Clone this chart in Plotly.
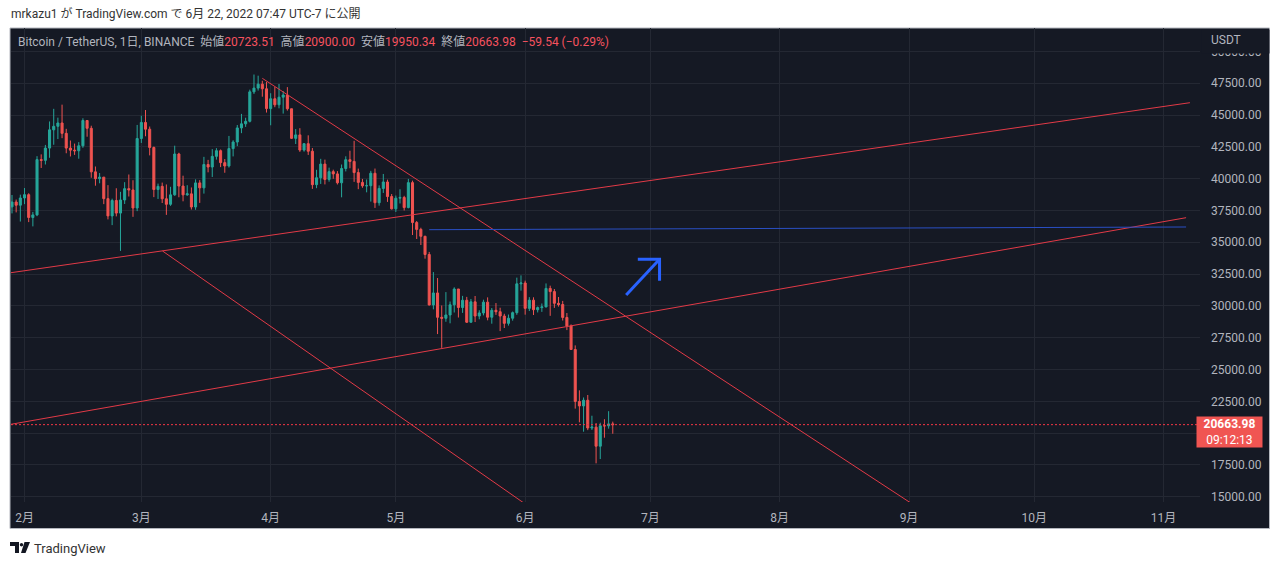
import pandas as pd
import plotly.graph_objects as go

# --- daily BTC/USDT candles (Binance, 1D) ---
dates = pd.date_range("2022-01-28", "2022-06-22", freq="D")

opens = [
    37128, 37785, 38166, 37917,
    38483, 38743, 36952, 37154, 41500, 41441, 42406, 43841, 44118, 44381,
    43565, 42407, 42244, 42197, 42586, 44575, 43961, 40538, 40000, 40122,
    38431, 37075, 38286, 37296, 38328, 39219, 39116, 37699,
    43160, 44421, 43892, 42454, 39148, 39397, 38420, 37988, 38730, 41941,
    39422, 38729, 38807, 37777, 39671, 39280, 41114, 40917, 41757, 42201,
    41262, 41002, 42364, 42882, 43991, 44313, 44511, 46827, 47122, 47434, 47068,
    45510, 46283, 45811, 46407, 46580, 45497, 43170, 43444, 42252, 42753,
    42159, 39530, 40074, 41147, 39942, 40552, 40378, 39678, 40801, 41493,
    41358, 40480, 39709, 39441, 39450, 40426, 38112, 39235, 39742, 38596,
    37630, 38468, 38525, 37729, 39690, 36552, 36013, 35472, 34038, 30076,
    31017, 29103, 29029, 29287, 30086, 31329, 29874, 30444, 28715, 30319,
    29201, 29445, 30293, 29110, 29655, 29542, 29202, 28628, 29031, 29468, 31734,
    31801, 29806, 30452, 29700, 29864, 29919, 31373, 31125, 30204, 30109,
    29091, 28424, 26574, 22487, 22136, 22583, 20401, 20468, 18970, 20574, 20573, 20723.51,
]
highs = [
    38000, 38720, 38360, 38744,
    39265, 38855, 37387, 41772, 41913, 42656, 44500, 45492, 44798, 45821,
    43920, 43000, 42760, 42876, 44750, 44578, 44164, 40959, 40444, 40124,
    39494, 38429, 39249, 38968, 39727, 40330, 39880, 44225,
    44950, 45400, 44102, 42527, 39613, 39693, 39547, 39362, 42594, 42039,
    40236, 39486, 39310, 39947, 39887, 41718, 41478, 42325, 42400, 42296,
    41544, 43361, 43025, 44220, 45094, 44792, 46999, 48190, 48097, 47700, 47600,
    46720, 47213, 47444, 46890, 47200, 45507, 43900, 43970, 42800, 43410,
    42414, 40699, 41561, 41500, 40870, 40709, 40595, 41116, 41760, 42199,
    42976, 40795, 39980, 39940, 40617, 40797, 39474, 40372, 39925, 38795,
    38675, 39167, 38652, 39980, 39845, 36675, 36146, 35510, 34243, 32658,
    32190, 30032, 31083, 30343, 31460, 31329, 30788, 30709, 30545, 30777,
    29656, 30487, 30670, 29834, 30223, 29856, 29380, 29320, 29556, 32222, 32399,
    31986, 30690, 30675, 29950, 30189, 31765, 31589, 31327, 30700, 30392,
    29440, 28544, 26895, 23362, 22800, 22995, 21365, 20792, 20815, 21090, 21723, 20900.00,
]
lows = [
    36160, 37270, 37350, 36630,
    38000, 36586, 36250, 37054, 40843, 41116, 41645, 42666, 43117, 43187,
    42000, 41748, 41870, 41571, 42428, 43300, 40073, 39450, 39639, 38000,
    36800, 36350, 37036, 34322, 38014, 38600, 37000, 37450,
    42810, 43335, 41832, 38550, 38407, 38088, 37155, 37867, 38656, 38539,
    38223, 38660, 37578, 37555, 38098, 38828, 40500, 40135, 41499, 40911,
    40467, 40875, 41751, 42560, 43579, 44072, 44422, 46664, 46930, 46445, 45200,
    44200, 45620, 45530, 45118, 45353, 43121, 42727, 42107, 42125, 41868,
    39200, 39254, 39588, 39551, 39766, 39991, 39546, 38536, 40571, 40820,
    39751, 39177, 39285, 38929, 38200, 37702, 37881, 38881, 38175, 37578,
    37386, 38052, 37500, 37670, 35571, 35258, 34785, 33713, 30033, 29730,
    27785, 26700, 28751, 28630, 29480, 29087, 29450, 28654, 28693, 28730,
    28947, 29255, 28866, 28600, 29294, 28020, 28262, 28450, 28839, 29299, 31200,
    29311, 29594, 29282, 29485, 29531, 29890, 29218, 29843, 29944, 28850,
    28099, 26560, 21925, 20846, 20111, 20232, 20246, 17622, 17960, 19637, 20348, 19950.34,
]
closes = [
    37785, 38166, 37917, 38483,
    38743, 36952, 37154, 41500, 41441, 42406, 43841, 44118, 44381, 43565,
    42407, 42244, 42197, 42586, 44575, 43961, 40538, 40000, 40122, 38431,
    37075, 38286, 37296, 38328, 39219, 39116, 37699, 43160,
    44421, 43892, 42454, 39148, 39397, 38420, 37988, 38730, 41941, 39422,
    38729, 38807, 37777, 39671, 39280, 41114, 40917, 41757, 42201, 41262,
    41002, 42364, 42882, 43991, 44313, 44511, 46827, 47122, 47434, 47068, 45510,
    46283, 45811, 46407, 46580, 45497, 43170, 43444, 42252, 42753, 42159,
    39530, 40074, 41147, 39942, 40552, 40378, 39678, 40801, 41493, 41358,
    40480, 39709, 39441, 39450, 40426, 38112, 39235, 39742, 38596, 37630,
    38468, 38525, 37729, 39690, 36552, 36013, 35472, 34038, 30076, 31017,
    29103, 29029, 29287, 30086, 31329, 29874, 30444, 28715, 30319, 29201,
    29445, 30293, 29110, 29655, 29542, 29202, 28628, 29031, 29468, 31734, 31801,
    29806, 30452, 29700, 29864, 29919, 31373, 31125, 30204, 30109, 29091,
    28424, 26574, 22487, 22136, 22583, 20401, 20468, 18970, 20574, 20573, 20723.51, 20663.98,
]
last_price = 20663.98
countdown = "09:12:13"

# --- drawings on the chart (date, price) ---
up_channel_top_x = ["2022-01-28 18:00", "2022-11-07 08:00"]
up_channel_top_y = [32610, 45975]
up_channel_bot_x = ["2022-01-28 18:00", "2022-11-06 10:00"]
up_channel_bot_y = [20692, 36934]
down_line_x = ["2022-03-30 00:00", "2022-09-03 00:00"]
down_line_y = [47893, 14168]
down_line2_x = ["2022-03-06 02:00", "2022-06-01 17:00"]
down_line2_y = [34316, 14269]
level_x = ["2022-05-09 00:00", "2022-11-06 10:00"]
level_y = [35991, 36203]
arrow_x = ["2022-06-25 05:00", "2022-07-03 05:00", None, "2022-06-28 00:00", "2022-07-03 05:00", "2022-07-03 05:00"]
arrow_y = [30857, 33664, None, 33664, 33664, 31981]

month_ticks = pd.date_range("2022-02-01", "2022-11-01", freq="MS")
month_labels = [f"{d.month}月" for d in month_ticks]
price_ticks = list(range(15000, 50001, 2500))
# the 20000 label sits behind the last-price badge, so it is left blank
price_labels = ["" if v == 20000 else f"{v:.2f}" for v in price_ticks]

BG = "#151924"
GRID = "#242833"
TXT = "#b2b5be"
UP, DOWN = "#26a69a", "#ef5350"
LINE_RED = "#e23a47"
FONT = "Roboto, 'Noto Sans CJK JP', sans-serif"

# plot area in page pixels
L, R, T, B = 11, 1200, 28, 502
W, H = 1280, 565
px = lambda x: (x - L) / (R - L)
py = lambda y: (B - y) / (B - T)

fig = go.Figure()
fig.add_trace(go.Candlestick(
    x=dates, open=opens, high=highs, low=lows, close=closes,
    increasing=dict(line=dict(color=UP, width=1), fillcolor=UP),
    decreasing=dict(line=dict(color=DOWN, width=1), fillcolor=DOWN),
    whiskerwidth=0, showlegend=False, hoverinfo="skip"))

for xs, ys in [(up_channel_top_x, up_channel_top_y), (up_channel_bot_x, up_channel_bot_y),
               (down_line_x, down_line_y), (down_line2_x, down_line2_y)]:
    fig.add_trace(go.Scatter(x=xs, y=ys, mode="lines", line=dict(color=LINE_RED, width=1),
                             showlegend=False, hoverinfo="skip"))
fig.add_trace(go.Scatter(x=level_x, y=level_y, mode="lines", line=dict(color="#2a4fc4", width=1),
                         showlegend=False, hoverinfo="skip"))
fig.add_trace(go.Scatter(x=arrow_x, y=arrow_y, mode="lines", line=dict(color="#2962ff", width=3),
                         showlegend=False, hoverinfo="skip"))

shapes = [
    # dark chart panel with thin border
    dict(type="rect", xref="paper", yref="paper", x0=px(10), x1=px(1269.5), y0=py(28), y1=py(528.5),
         fillcolor=BG, line=dict(color="#b4b7be", width=1), layer="below"),
    # last price dotted line
    dict(type="line", xref="paper", yref="y", x0=0, x1=1, y0=last_price, y1=last_price,
         line=dict(color="#f23645", width=1, dash="2px,2px")),
    # TradingView logo
    dict(type="rect", xref="paper", yref="paper", x0=px(10), x1=px(19), y0=py(546), y1=py(542),
         fillcolor="#131722", line=dict(width=0)),
    dict(type="rect", xref="paper", yref="paper", x0=px(15), x1=px(19), y0=py(553), y1=py(542),
         fillcolor="#131722", line=dict(width=0)),
    dict(type="circle", xref="paper", yref="paper", x0=px(19.8), x1=px(23.2), y0=py(546.5), y1=py(543),
         fillcolor="#131722", line=dict(width=0)),
    dict(type="path", xref="paper", yref="paper",
         path=f"M {px(24.5)} {py(542)} L {px(30)} {py(542)} L {px(25.5)} {py(553)} L {px(21)} {py(553)} Z",
         fillcolor="#131722", line=dict(width=0)),
]

red = lambda s: f'<span style="color:#f7525f">{s}</span>'
sp = "\u00a0\u00a0"
header = ("Bitcoin / TetherUS, 1日, BINANCE" + sp + "始値" + red("20723.51") + sp + "高値" + red("20900.00")
          + sp + "安値" + red("19950.34") + sp + "終値" + red("20663.98") + sp + red("−59.54 (−0.29%)"))

annotations = [
    dict(xref="paper", yref="paper", x=px(9), y=py(14), xanchor="left", yanchor="middle", showarrow=False,
         text="mrkazu1 が TradingView.com で 6月 22, 2022 07:47 UTC-7 に公開",
         font=dict(family=FONT, size=12, color="#333333")),
    dict(xref="paper", yref="paper", x=px(16), y=py(41), xanchor="left", yanchor="middle", showarrow=False,
         text=header, font=dict(family=FONT, size=12, color=TXT)),
    # blank box over the upper half of the 50000 label, then the "USDT" caption
    dict(xref="paper", yref="paper", x=px(1201), y=py(29), xanchor="left", yanchor="top", showarrow=False,
         text="\u00a0", width=67, height=23, borderpad=0, bgcolor=BG, font=dict(size=12)),
    dict(xref="paper", yref="paper", x=px(1209), y=py(40), xanchor="left", yanchor="middle", showarrow=False,
         text="USDT", font=dict(family=FONT, size=12, color=TXT)),
    dict(xref="paper", yref="y", x=px(1196), y=last_price, xanchor="left", yanchor="top", yshift=9,
         showarrow=False, text=f"<b>{last_price:.2f}</b><br>{countdown}", align="center",
         bgcolor="#f05552", width=65, height=30, borderpad=0,
         font=dict(family=FONT, size=12, color="#ffffff")),
    dict(xref="paper", yref="paper", x=px(32), y=py(548), xanchor="left", yanchor="middle", showarrow=False,
         text="TradingView", font=dict(family=FONT, size=13, color="#333333")),
]

fig.update_layout(
    width=W, height=H,
    margin=dict(l=L, r=W - R, t=T, b=H - B),
    paper_bgcolor="#ffffff", plot_bgcolor="rgba(0,0,0,0)",
    font=dict(family=FONT, size=12, color=TXT),
    shapes=shapes, annotations=annotations,
    xaxis=dict(type="date", range=["2022-01-28 18:15", "2022-11-09 18:00"],
               tickvals=month_ticks, ticktext=month_labels, ticks="", ticklabelstandoff=7,
               showgrid=True, gridcolor=GRID, gridwidth=1, zeroline=False, showline=False,
               rangeslider=dict(visible=False), tickfont=dict(size=12, color=TXT)),
    yaxis=dict(side="right", range=[14583, 51847], tickvals=price_ticks,
               ticktext=price_labels, ticks="", ticklabelstandoff=10,
               showgrid=True, gridcolor=GRID, gridwidth=1, zeroline=False, showline=False,
               tickfont=dict(size=12, color=TXT)),
    hovermode=False,
)

fig.write_html("out.html", config={"displayModeBar": False},
               post_script="document.body.style.margin='0';")
